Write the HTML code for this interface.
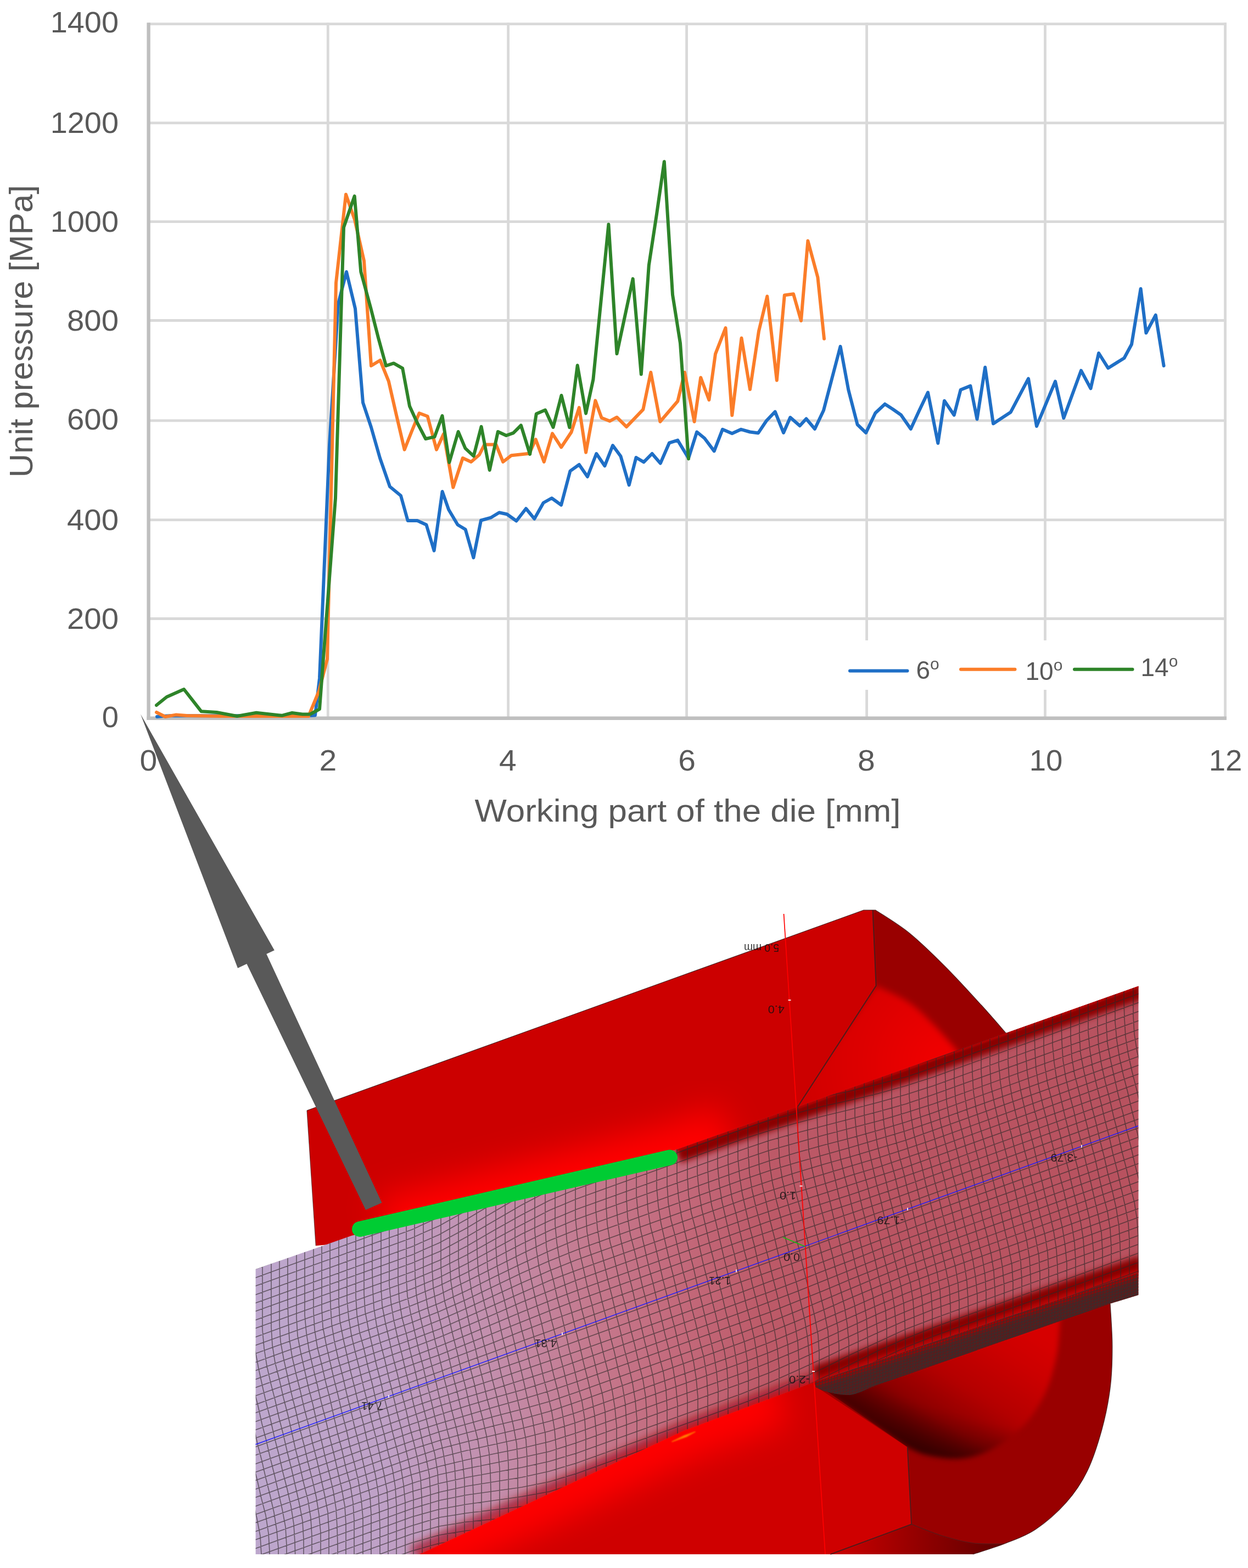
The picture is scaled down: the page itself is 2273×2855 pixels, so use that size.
<!DOCTYPE html>
<html lang="en"><head><meta charset="utf-8"><title>Unit pressure on the working part of the die</title>
<style>html,body{margin:0;padding:0;background:#fff}svg{display:block}text{font-family:"Liberation Sans",sans-serif}</style></head><body>
<svg width="2273" height="2855" viewBox="0 0 2273 2855">
<defs>
<pattern id="mesh" patternUnits="userSpaceOnUse" width="15" height="15" patternTransform="matrix(1,-0.36,0,1,465.6,2311)">
<path d="M0 7.5H15M7.5 0V15" fill="none" stroke="#2e2a2a" stroke-width="2" stroke-opacity="0.82"/>
</pattern>
<pattern id="meshC" patternUnits="userSpaceOnUse" width="14.8" height="14.8" patternTransform="matrix(0.941,-0.339,0.339,0.941,465.6,2630)">
<path d="M0 7.4H14.8M7.4 0V14.8" fill="none" stroke="#2e2a2a" stroke-width="2" stroke-opacity="0.82"/>
</pattern>
<pattern id="fine" patternUnits="userSpaceOnUse" width="5.5" height="5.5" patternTransform="matrix(1,-0.3,0,1,1484,2512)">
<path d="M0 2.75H5.5M2.75 0V5.5" fill="none" stroke="#303030" stroke-width="1.2" stroke-opacity="0.8"/>
</pattern>
<linearGradient id="meshFill" gradientUnits="userSpaceOnUse" x1="465" y1="0" x2="2073" y2="0">
<stop offset="0" stop-color="#bda7cd"/>
<stop offset="0.146" stop-color="#bfa1c7"/>
<stop offset="0.27" stop-color="#c38eac"/>
<stop offset="0.376" stop-color="#c57a8f"/>
<stop offset="0.476" stop-color="#c46a7c"/>
<stop offset="0.58" stop-color="#bd5a68"/>
<stop offset="0.7" stop-color="#ba5563"/>
<stop offset="1" stop-color="#b8525f"/>
</linearGradient>
<linearGradient id="hole" gradientUnits="userSpaceOnUse" x1="1570" y1="2581" x2="1733" y2="2329">
<stop offset="0" stop-color="#3a0000"/>
<stop offset="0.08" stop-color="#500000"/>
<stop offset="0.25" stop-color="#8c0000"/>
<stop offset="0.5" stop-color="#b40000"/>
<stop offset="0.8" stop-color="#cc0000"/>
<stop offset="1" stop-color="#d60000"/>
</linearGradient>
<linearGradient id="hole2" gradientUnits="userSpaceOnUse" x1="1730" y1="2668" x2="1755" y2="2575">
<stop offset="0" stop-color="#2c0000" stop-opacity="0.9"/>
<stop offset="0.35" stop-color="#3c0000" stop-opacity="0.6"/>
<stop offset="1" stop-color="#600000" stop-opacity="0"/>
</linearGradient>
<linearGradient id="lowTri" gradientUnits="userSpaceOnUse" x1="1540" y1="0" x2="1820" y2="0">
<stop offset="0" stop-color="#c40000"/>
<stop offset="0.5" stop-color="#900000"/>
<stop offset="1" stop-color="#600000"/>
</linearGradient>
<radialGradient id="cone" gradientUnits="userSpaceOnUse" cx="1725" cy="1935" r="300">
<stop offset="0" stop-color="#f20000"/>
<stop offset="0.4" stop-color="#e20000"/>
<stop offset="1" stop-color="#cc0000"/>
</radialGradient>
<linearGradient id="stripFill" gradientUnits="userSpaceOnUse" x1="1780" y1="2412" x2="1792" y2="2448">
<stop offset="0" stop-color="#c00000"/>
<stop offset="0.3" stop-color="#8a0c0c"/>
<stop offset="0.6" stop-color="#5e2222"/>
<stop offset="1" stop-color="#6a2a2a"/>
</linearGradient>
<filter id="b1" x="-10%" y="-10%" width="120%" height="120%"><feGaussianBlur stdDeviation="1.2"/></filter>
<filter id="b4" x="-5%" y="-20%" width="110%" height="140%"><feGaussianBlur stdDeviation="4"/></filter>
<filter id="b5" x="-10%" y="-10%" width="120%" height="120%"><feGaussianBlur stdDeviation="5"/></filter>
<filter id="b8" x="-5%" y="-20%" width="110%" height="140%"><feGaussianBlur stdDeviation="8"/></filter>
<filter id="b6" x="-5%" y="-20%" width="110%" height="140%"><feGaussianBlur stdDeviation="6"/></filter>
<filter id="b30" x="-20%" y="-60%" width="140%" height="220%"><feGaussianBlur stdDeviation="30"/></filter>
<filter id="b12" x="-20%" y="-60%" width="140%" height="220%"><feGaussianBlur stdDeviation="12"/></filter>
</defs>

<rect width="2273" height="2855" fill="#fff"/>
<g stroke="#d9d9d9" stroke-width="4.8" fill="none">
<line x1="270.6" y1="1126.5" x2="2233.9" y2="1126.5"/>
<line x1="270.6" y1="946.7" x2="2233.9" y2="946.7"/>
<line x1="270.6" y1="765.8" x2="2233.9" y2="765.8"/>
<line x1="270.6" y1="583.5" x2="2233.9" y2="583.5"/>
<line x1="270.6" y1="403.6" x2="2233.9" y2="403.6"/>
<line x1="270.6" y1="223.8" x2="2233.9" y2="223.8"/>
<line x1="270.6" y1="43.6" x2="2233.9" y2="43.6"/>
<line x1="597.3" y1="41.2" x2="597.3" y2="1307.8"/>
<line x1="925.6" y1="41.2" x2="925.6" y2="1307.8"/>
<line x1="1250.6" y1="41.2" x2="1250.6" y2="1307.8"/>
<line x1="1578.6" y1="41.2" x2="1578.6" y2="1307.8"/>
<line x1="1903.5" y1="41.2" x2="1903.5" y2="1307.8"/>
<line x1="2231.5" y1="41.2" x2="2231.5" y2="1307.8"/>
</g>
<rect x="1530" y="1166" width="680" height="90" fill="#fff"/>
<g stroke="#bfbfbf" stroke-width="6.4" fill="none"><line x1="270.6" y1="41.2" x2="270.6" y2="1311.0"/><line x1="267.40000000000003" y1="1307.8" x2="2233.9" y2="1307.8"/></g>
<polyline points="286.0,1305.0 296.0,1304.0 310.0,1303.2 560.0,1303.2 574.0,1302.5 582.0,1235.0 600.0,810.0 616.0,553.0 631.0,495.0 647.0,562.0 661.0,733.0 676.0,778.0 692.0,834.0 710.0,886.0 730.0,902.5 742.7,948.0 760.0,948.0 776.5,955.5 790.6,1002.6 805.6,895.0 817.2,928.0 833.6,955.5 847.7,964.0 862.4,1015.4 876.0,947.5 893.6,942.7 909.2,933.3 923.3,936.3 940.5,948.5 958.0,926.0 973.3,944.6 989.7,915.5 1004.8,907.0 1022.1,919.5 1038.5,857.6 1054.8,846.0 1070.0,868.0 1086.2,826.0 1101.4,848.3 1116.0,811.0 1130.5,830.8 1145.7,883.2 1158.5,833.0 1172.5,841.3 1187.6,826.0 1202.8,843.6 1219.0,806.3 1234.3,801.6 1254.0,834.3 1269.2,786.5 1283.2,798.0 1300.7,821.4 1315.9,781.8 1333.3,789.3 1349.7,781.8 1366.0,786.5 1381.0,788.4 1396.0,766.0 1411.7,749.7 1427.0,788.0 1439.3,760.0 1456.7,775.3 1468.4,762.5 1484.0,781.0 1500.0,747.3 1515.0,690.0 1530.6,630.8 1545.3,710.0 1561.6,773.0 1577.2,788.0 1594.3,752.0 1611.7,735.7 1626.0,745.0 1641.0,755.5 1658.8,781.0 1674.0,748.0 1690.0,714.5 1708.3,807.0 1720.0,729.7 1737.7,755.8 1749.6,709.8 1767.4,702.6 1779.5,763.2 1794.2,668.8 1809.0,771.4 1840.8,750.4 1873.0,689.3 1888.0,776.0 1922.0,694.4 1937.3,761.3 1969.0,674.7 1986.5,707.3 2001.1,643.0 2018.2,670.2 2047.5,652.0 2061.0,627.0 2077.6,525.7 2087.4,606.3 2104.8,573.7 2119.6,666.0" fill="none" stroke="#1f6fc6" stroke-width="6" stroke-linejoin="round" stroke-linecap="round"/>
<polyline points="285.0,1297.0 301.0,1305.0 320.0,1301.6 340.0,1303.0 400.0,1304.0 480.0,1304.0 562.0,1304.0 581.0,1258.0 596.0,1200.0 612.0,515.0 630.0,354.0 646.0,400.0 663.0,475.0 676.0,666.0 692.4,656.0 707.8,694.0 722.0,756.0 736.7,818.7 750.0,785.0 763.5,752.3 778.7,758.0 795.0,818.7 808.0,790.0 825.3,887.5 842.8,834.0 858.0,841.0 873.0,828.0 882.4,809.4 903.4,809.4 916.2,841.0 931.4,829.2 964.0,825.7 975.7,800.0 990.8,841.0 1006.0,789.3 1022.2,814.3 1040.5,787.0 1054.8,742.2 1067.1,823.8 1084.4,729.4 1095.6,760.8 1110.7,766.7 1123.5,759.7 1141.0,777.2 1171.3,745.7 1185.3,678.0 1202.3,767.8 1234.3,730.5 1247.0,678.0 1264.6,767.8 1276.2,687.4 1291.4,728.2 1303.0,644.3 1321.5,597.0 1333.3,756.2 1350.5,615.5 1366.0,709.0 1382.0,603.0 1397.3,539.5 1414.8,692.5 1428.8,537.5 1445.0,535.2 1459.0,584.0 1471.4,438.5 1489.4,505.0 1501.0,616.8" fill="none" stroke="#fb7d29" stroke-width="6" stroke-linejoin="round" stroke-linecap="round"/>
<polyline points="285.0,1284.0 303.6,1269.0 335.0,1255.0 366.6,1295.3 394.5,1297.0 431.8,1304.0 466.8,1297.7 513.4,1302.8 532.0,1298.0 550.7,1300.5 564.7,1300.5 582.0,1291.0 611.0,907.0 626.0,414.0 645.7,357.0 657.3,495.0 675.0,560.0 689.0,615.0 703.0,666.0 717.0,661.4 733.2,670.7 746.0,739.5 760.0,770.0 775.2,799.0 791.5,795.4 805.5,757.0 818.3,842.0 834.6,786.0 847.5,816.4 862.6,830.4 876.6,776.8 891.7,856.0 906.9,786.0 922.0,793.0 934.9,788.4 948.9,774.5 965.2,827.0 976.8,753.5 993.1,746.5 1007.5,778.0 1022.5,720.0 1037.3,778.3 1051.7,665.3 1067.1,752.7 1080.4,691.0 1108.4,408.5 1123.5,644.0 1152.7,507.6 1167.8,681.6 1181.8,483.0 1196.0,390.0 1209.8,294.3 1225.0,536.7 1239.0,625.0 1254.0,835.4" fill="none" stroke="#2e8429" stroke-width="6" stroke-linejoin="round" stroke-linecap="round"/>
<g fill="#595959" font-size="53">
<text x="216" y="1324.2" text-anchor="end" textLength="30.2" lengthAdjust="spacingAndGlyphs">0</text>
<text x="216" y="1144.8" text-anchor="end" textLength="94" lengthAdjust="spacingAndGlyphs">200</text>
<text x="216" y="964.9" text-anchor="end" textLength="94" lengthAdjust="spacingAndGlyphs">400</text>
<text x="216" y="782.0" text-anchor="end" textLength="94" lengthAdjust="spacingAndGlyphs">600</text>
<text x="216" y="601.8" text-anchor="end" textLength="94" lengthAdjust="spacingAndGlyphs">800</text>
<text x="216" y="421.6" text-anchor="end" textLength="124.3" lengthAdjust="spacingAndGlyphs">1000</text>
<text x="216" y="241.8" text-anchor="end" textLength="124.3" lengthAdjust="spacingAndGlyphs">1200</text>
<text x="216" y="59.4" text-anchor="end" textLength="124.3" lengthAdjust="spacingAndGlyphs">1400</text>
<text x="270.4" y="1403.2" text-anchor="middle" textLength="31.7" lengthAdjust="spacingAndGlyphs">0</text>
<text x="597.3" y="1403.2" text-anchor="middle" textLength="31.7" lengthAdjust="spacingAndGlyphs">2</text>
<text x="924.8" y="1403.2" text-anchor="middle" textLength="31.7" lengthAdjust="spacingAndGlyphs">4</text>
<text x="1251.0" y="1403.2" text-anchor="middle" textLength="31.7" lengthAdjust="spacingAndGlyphs">6</text>
<text x="1577.8" y="1403.2" text-anchor="middle" textLength="31.7" lengthAdjust="spacingAndGlyphs">8</text>
<text x="1905.0" y="1403.2" text-anchor="middle" textLength="60.6" lengthAdjust="spacingAndGlyphs">10</text>
<text x="2232.0" y="1403.2" text-anchor="middle" textLength="60.6" lengthAdjust="spacingAndGlyphs">12</text>
</g>
<text x="1252.5" y="1496" fill="#595959" font-size="58" text-anchor="middle" textLength="776" lengthAdjust="spacingAndGlyphs">Working part of the die [mm]</text>
<text transform="translate(59.3 603.3) rotate(-90)" fill="#595959" font-size="58.6" text-anchor="middle" textLength="532.5" lengthAdjust="spacingAndGlyphs">Unit pressure [MPa]</text>
<g stroke-width="6" stroke-linecap="round" fill="none"><line x1="1548" y1="1221.4" x2="1652.5" y2="1221.4" stroke="#1f6fc6"/><line x1="1750" y1="1218.7" x2="1848.5" y2="1218.7" stroke="#fb7d29"/><line x1="1957" y1="1218.7" x2="2062.5" y2="1218.7" stroke="#2e8429"/></g>
<g fill="#595959" font-size="46"><text x="1668.5" y="1236">6<tspan font-size="30" dy="-17">o</tspan></text><text x="1867.5" y="1238">10<tspan font-size="30" dy="-17">o</tspan></text><text x="2077.5" y="1231.4">14<tspan font-size="30" dy="-17">o</tspan></text></g>
<g id="fig3d">
<clipPath id="cUp"><path d="M559 2022L1573 1657.2L1589.5 1657L1595.6 1794.8L1452.7 2015.5L1452.7 2040L1234 2115L640 2262L575.2 2268.3Z"/></clipPath>
<clipPath id="cLo"><path d="M700 2830L700 2800L1245 2580L1485 2500L1488 2526L1652.7 2635L1660 2775.4L1512.5 2830Z"/></clipPath>
<clipPath id="cMesh"><path d="M465.6 2311.0L577.5 2272.0L640.0 2250.0L1234.0 2092.4L1452.7 2015.5L2073.5 1795.5L2073.5 2317.0L1484.0 2516.0L1245.0 2605.0L764.0 2830.0L465.6 2830Z"/></clipPath>
<clipPath id="cStrip"><path d="M1482 2512L2073.5 2313L2073.5 2358L2018 2375L1600 2521C1575 2530 1560 2540 1545 2540C1525 2540 1500 2534 1486 2526Z"/></clipPath>
<path d="M1488 2510L2022 2340L2022 2374C2022.6 2386.9 2025.8 2426.0 2025.8 2451.5C2025.8 2477.0 2025.2 2501.8 2022.0 2527.0C2018.8 2552.2 2013.8 2577.7 2006.8 2603.0C1999.8 2628.3 1990.8 2656.9 1980.0 2679.0C1969.2 2701.1 1957.7 2717.9 1942.0 2735.6C1926.3 2753.3 1904.5 2772.4 1885.6 2785.0C1866.7 2797.6 1847.7 2803.5 1828.8 2811.0C1809.9 2818.5 1781.5 2826.8 1772.0 2830.0L1512 2830Z" fill="#990000"/>
<clipPath id="cRingLo"><path d="M1478 2514L2022 2340L2022 2374C2022.6 2386.9 2025.8 2426.0 2025.8 2451.5C2025.8 2477.0 2025.2 2501.8 2022.0 2527.0C2018.8 2552.2 2013.8 2577.7 2006.8 2603.0C1999.8 2628.3 1990.8 2656.9 1980.0 2679.0C1969.2 2701.1 1957.7 2717.9 1942.0 2735.6C1926.3 2753.3 1904.5 2772.4 1885.6 2785.0C1866.7 2797.6 1847.7 2803.5 1828.8 2811.0C1809.9 2818.5 1781.5 2826.8 1772.0 2830.0L1512 2830L1660 2775.4L1652.7 2635Z"/></clipPath>
<g clip-path="url(#cRingLo)"><g filter="url(#b5)"><path d="M1470 2510L1931 2370L1931 2400C1930.3 2408.6 1928.9 2436.7 1927.0 2451.5C1925.1 2466.3 1923.5 2475.1 1919.7 2489.0C1916.0 2502.9 1911.5 2519.8 1904.5 2535.0C1897.5 2550.2 1887.5 2567.4 1878.0 2580.0C1868.5 2592.6 1859.0 2601.1 1847.7 2610.6C1836.4 2620.1 1822.6 2630.1 1810.0 2637.0C1797.4 2643.9 1784.7 2648.8 1772.0 2652.0C1759.3 2655.2 1748.5 2656.6 1734.0 2656.0C1719.5 2655.4 1698.5 2652.0 1685.0 2648.5C1671.5 2645.0 1658.1 2637.2 1652.7 2635.0Z" fill="url(#hole)"/><path d="M1470 2510L1931 2370L1931 2400C1930.3 2408.6 1928.9 2436.7 1927.0 2451.5C1925.1 2466.3 1923.5 2475.1 1919.7 2489.0C1916.0 2502.9 1911.5 2519.8 1904.5 2535.0C1897.5 2550.2 1887.5 2567.4 1878.0 2580.0C1868.5 2592.6 1859.0 2601.1 1847.7 2610.6C1836.4 2620.1 1822.6 2630.1 1810.0 2637.0C1797.4 2643.9 1784.7 2648.8 1772.0 2652.0C1759.3 2655.2 1748.5 2656.6 1734.0 2656.0C1719.5 2655.4 1698.5 2652.0 1685.0 2648.5C1671.5 2645.0 1658.1 2637.2 1652.7 2635.0Z" fill="url(#hole2)"/></g></g>
<path d="M1512.5 2830.0L1660 2775.4C1669.2 2778.8 1696.3 2790.3 1715.0 2796.0C1733.7 2801.7 1753.0 2807.0 1772.0 2809.5C1791.0 2812.0 1819.3 2810.8 1828.8 2811.0L1772 2830Z" fill="url(#lowTri)"/>
<path d="M700 2830L700 2800L1245 2580L1485 2500L1488 2526L1652.7 2635L1660 2775.4L1512.5 2830Z" fill="#cf0000"/>
<g clip-path="url(#cLo)"><path d="M764 2830L1245 2605L1420 2541" fill="none" stroke="#ff0000" stroke-width="110" filter="url(#b30)"/></g>
<path d="M1652.7 2635L1660 2775.4L1512.5 2830" fill="none" stroke="#4a1c1c" stroke-width="1.7"/>
<path d="M2022 2374C2022.6 2386.9 2025.8 2426.0 2025.8 2451.5C2025.8 2477.0 2025.2 2501.8 2022.0 2527.0C2018.8 2552.2 2013.8 2577.7 2006.8 2603.0C1999.8 2628.3 1990.8 2656.9 1980.0 2679.0C1969.2 2701.1 1957.7 2717.9 1942.0 2735.6C1926.3 2753.3 1904.5 2772.4 1885.6 2785.0C1866.7 2797.6 1847.7 2803.5 1828.8 2811.0C1809.9 2818.5 1781.5 2826.8 1772.0 2830.0" fill="none" stroke="#3a1414" stroke-width="1.3" stroke-opacity="0.8"/>
<path d="M1660.0 2775.4C1669.2 2778.8 1696.3 2790.3 1715.0 2796.0C1733.7 2801.7 1753.0 2807.0 1772.0 2809.5C1791.0 2812.0 1819.3 2810.8 1828.8 2811.0" fill="none" stroke="#5a1a1a" stroke-width="1.2"/>
<path d="M559 2022L1573 1657.2L1589.5 1657L1595.6 1794.8L1452.7 2015.5L1452.7 2040L1234 2115L640 2262L575.2 2268.3Z" fill="#cc0000"/>
<g clip-path="url(#cUp)"><path d="M700 2240L1234 2104L1330 2070" fill="none" stroke="#ff0000" stroke-width="120" filter="url(#b30)"/></g>
<clipPath id="cRingUp"><path d="M1589.5 1657L1594.8 1657.2C1605.0 1664.1 1634.9 1681.6 1656.0 1698.7C1677.1 1715.8 1699.7 1738.1 1721.5 1759.9C1743.3 1781.8 1768.4 1809.5 1787.0 1829.8C1805.6 1850.1 1825.3 1873.3 1833.0 1882.0L1833 1900L1452.7 2040L1452.7 2015.5L1595.6 1794.8Z"/></clipPath>
<path d="M1589.5 1657L1594.8 1657.2C1605.0 1664.1 1634.9 1681.6 1656.0 1698.7C1677.1 1715.8 1699.7 1738.1 1721.5 1759.9C1743.3 1781.8 1768.4 1809.5 1787.0 1829.8C1805.6 1850.1 1825.3 1873.3 1833.0 1882.0L1833 1900L1452.7 2040L1452.7 2015.5L1595.6 1794.8Z" fill="#990000"/>
<g clip-path="url(#cRingUp)"><path d="M1595.6 1794.8C1605.7 1799.9 1638.7 1813.7 1656.0 1825.4C1673.3 1837.1 1685.1 1850.2 1699.7 1864.8C1714.3 1879.4 1736.1 1904.8 1743.4 1912.8L1743.4 1940L1440 2050L1440 2015.5Z" fill="url(#cone)" filter="url(#b6)"/></g>
<path d="M1589.5 1657L1595.6 1794.8L1452.7 2015.5" fill="none" stroke="#4a1c1c" stroke-width="1.9"/>
<path d="M559 2022L1573 1657.2L1594.8 1657.2C1605.0 1664.1 1634.9 1681.6 1656.0 1698.7C1677.1 1715.8 1699.7 1738.1 1721.5 1759.9C1743.3 1781.8 1768.4 1809.5 1787.0 1829.8C1805.6 1850.1 1825.3 1873.3 1833.0 1882.0" fill="none" stroke="#3a1414" stroke-width="1.3" stroke-opacity="0.8"/>
<path d="M559 2022L575.2 2268.3" fill="none" stroke="#3a1414" stroke-width="1.2" stroke-opacity="0.6"/>
<path d="M1482 2512L2073.5 2313L2073.5 2358L2018 2375L1600 2521C1575 2530 1560 2540 1545 2540C1525 2540 1500 2534 1486 2526Z" fill="#581c1c"/>
<g clip-path="url(#cStrip)"><path d="M1470 2521L2080 2315" fill="none" stroke="#a40000" stroke-width="18" filter="url(#b4)"/></g>
<path d="M1482 2512L2073.5 2313L2073.5 2358L2018 2375L1600 2521C1575 2530 1560 2540 1545 2540C1525 2540 1500 2534 1486 2526Z" fill="url(#fine)"/>
<path d="M465.6 2311.0L577.5 2272.0L640.0 2250.0L1234.0 2092.4L1452.7 2015.5L2073.5 1795.5L2073.5 2317.0L1484.0 2516.0L1245.0 2605.0L764.0 2830.0L465.6 2830Z" fill="url(#meshFill)"/>
<g clip-path="url(#cMesh)">
<path d="M1234 2103L1452.7 2026L2080 1803.5" fill="none" stroke="#8a0000" stroke-width="30" filter="url(#b6)"/>
<path d="M1234 2093.5L1452.7 2016.5L2080 1794" fill="none" stroke="#b40000" stroke-width="5" filter="url(#b1)"/>
<path d="M750 2826L1245 2598L1484 2509" fill="none" stroke="#a00010" stroke-width="18" stroke-opacity="0.75" filter="url(#b8)"/>
<path d="M1484 2502L2080 2301" fill="none" stroke="#880000" stroke-width="30" filter="url(#b6)"/>
<path d="M1484 2514L2080 2313" fill="none" stroke="#c00000" stroke-width="9" filter="url(#b4)"/>
<path d="M764 2832L1245 2607L1484 2518" fill="none" stroke="#d80000" stroke-width="8" filter="url(#b4)"/>
<path d="M263 2363L263 2397L263 2431L263 2465L263 2499L265 2532L270 2564L278 2596L285 2627L293 2658L300 2690L307 2721L315 2752L322 2784L330 2815L335 2847L337 2880L337 2914L337 2948L337 2982L337 3016M278 2358L278 2392L278 2426L278 2460L278 2494L280 2527L286 2559L293 2590L300 2622L308 2653L315 2684L323 2715L330 2747L338 2778L345 2809L350 2842L353 2875L353 2909L353 2943L353 2977L353 3011M293 2352L293 2386L293 2420L293 2454L294 2488L296 2521L301 2553L308 2585L316 2616L323 2647L331 2679L338 2710L346 2741L353 2773L360 2804L366 2836L368 2869L368 2903L368 2937L368 2971L368 3005M309 2347L309 2381L309 2415L309 2449L309 2482L311 2516L317 2548L324 2579L331 2610L339 2642L346 2673L354 2704L361 2736L369 2767L376 2798L381 2830L383 2864L384 2898L384 2932L384 2966L384 3000M324 2341L324 2375L324 2409L324 2443L324 2477L327 2510L332 2542L339 2574L347 2605L354 2636L362 2668L369 2699L377 2730L384 2761L391 2793L397 2825L399 2858L399 2892L399 2926L399 2960L399 2994M340 2335L340 2369L340 2403L340 2437L340 2471L342 2505L347 2537L355 2568L362 2599L370 2631L377 2662L384 2693L392 2725L399 2756L407 2787L412 2819L414 2853L414 2886L414 2920L414 2954L414 2988M355 2330L355 2364L355 2398L355 2432L355 2466L357 2499L363 2531L370 2563L377 2594L385 2625L392 2656L400 2688L407 2719L415 2750L422 2782L427 2814L430 2847L430 2881L430 2915L430 2949L430 2983M370 2324L370 2358L370 2392L370 2426L371 2460L373 2493L378 2526L385 2557L393 2588L400 2620L408 2651L415 2682L423 2713L430 2745L437 2776L443 2808L445 2841L445 2875L445 2909L445 2943L445 2977M386 2319L386 2353L386 2387L386 2421L386 2455L388 2488L394 2520L401 2551L408 2583L416 2614L423 2645L431 2677L438 2708L446 2739L453 2771L458 2803L460 2836L461 2870L461 2904L461 2938L461 2972M401 2313L401 2347L401 2381L401 2415L401 2449L404 2482L409 2514L416 2546L424 2577L431 2608L439 2640L446 2671L454 2702L461 2734L468 2765L474 2797L476 2830L476 2864L476 2898L476 2932L476 2966M417 2308L417 2342L417 2376L417 2410L417 2444L419 2477L424 2509L432 2540L439 2572L447 2603L454 2634L461 2665L469 2697L476 2728L484 2759L489 2792L491 2825L491 2859L491 2893L491 2927L491 2961M432 2302L432 2336L432 2370L432 2404L432 2438L434 2471L440 2503L447 2535L454 2566L462 2597L469 2629L477 2660L484 2691L492 2723L499 2754L504 2786L507 2819L507 2853L507 2887L507 2921L507 2955M447 2297L447 2331L447 2365L447 2399L448 2432L450 2466L455 2498L462 2529L470 2560L477 2592L485 2623L492 2654L500 2686L507 2717L514 2748L520 2780L522 2814L522 2848L522 2882L522 2916L522 2950M463 2291L463 2325L463 2359L463 2393L463 2427L465 2460L471 2492L478 2524L485 2555L493 2586L500 2618L508 2649L515 2680L523 2711L530 2743L535 2775L537 2808L538 2842L538 2876L538 2910L538 2944M478 2285L478 2319L478 2353L478 2387L478 2421L481 2455L486 2487L493 2518L501 2549L508 2581L516 2612L523 2643L531 2675L538 2706L545 2737L551 2769L553 2803L553 2836L553 2870L553 2904L553 2938M494 2280L494 2314L494 2348L494 2382L494 2416L496 2449L501 2481L509 2513L516 2544L524 2575L531 2606L538 2638L546 2669L553 2700L561 2732L566 2764L568 2797L568 2831L568 2865L568 2899L568 2933M509 2274L509 2308L509 2342L509 2376L509 2410L511 2443L517 2476L524 2507L531 2538L539 2570L546 2601L554 2632L561 2663L569 2695L576 2726L581 2758L584 2791L584 2825L584 2859L584 2893L584 2927M524 2269L524 2303L524 2337L524 2371L525 2405L527 2438L532 2470L539 2501L547 2533L554 2564L562 2595L569 2627L577 2658L584 2689L591 2721L597 2753L599 2786L599 2820L599 2854L599 2888L599 2922M540 2263L540 2297L540 2331L540 2365L540 2399L542 2432L548 2464L555 2496L562 2527L570 2558L577 2590L585 2621L592 2652L600 2684L607 2715L612 2747L614 2780L615 2814L615 2848L615 2882L615 2916M555 2258L555 2292L555 2326L555 2360L555 2394L558 2427L563 2459L570 2490L578 2522L585 2553L593 2584L600 2615L608 2647L615 2678L622 2709L628 2742L630 2775L630 2809L630 2843L630 2877L630 2911M571 2252L571 2286L571 2320L571 2354L571 2388L573 2421L578 2453L586 2485L593 2516L601 2547L608 2579L615 2610L623 2641L630 2673L638 2704L643 2736L645 2769L645 2803L645 2837L645 2871L645 2905M586 2247L586 2281L586 2315L586 2349L586 2382L588 2416L594 2448L601 2479L608 2510L616 2542L623 2573L631 2604L638 2636L646 2667L653 2698L658 2730L661 2764L661 2798L661 2832L661 2866L661 2900M601 2241L601 2275L601 2309L601 2343L602 2377L604 2410L609 2442L616 2474L624 2505L631 2536L639 2568L646 2599L654 2630L661 2661L668 2693L674 2725L676 2758L676 2792L676 2826L676 2860L676 2894M617 2235L617 2269L617 2303L617 2337L617 2371L619 2405L625 2437L632 2468L639 2499L647 2531L654 2562L662 2593L669 2625L677 2656L684 2687L689 2719L691 2753L692 2786L692 2820L692 2854L692 2888M632 2230L632 2264L632 2298L632 2332L632 2366L635 2399L640 2431L647 2462L655 2494L662 2525L670 2556L677 2588L685 2619L692 2650L699 2682L705 2714L707 2747L707 2781L707 2815L707 2849L707 2883M648 2224L648 2258L648 2292L648 2326L648 2360L650 2393L655 2426L663 2457L670 2488L678 2520L685 2551L692 2582L700 2613L707 2645L715 2676L720 2708L722 2741L722 2775L722 2809L722 2843L722 2877M663 2219L663 2253L663 2287L663 2321L663 2355L665 2388L671 2420L678 2451L685 2483L693 2514L700 2545L708 2577L715 2608L723 2639L730 2671L735 2703L738 2736L738 2770L738 2804L738 2838L738 2872M678 2213L678 2247L678 2281L678 2315L679 2349L681 2382L686 2414L693 2446L701 2477L708 2508L716 2540L723 2571L731 2602L738 2634L745 2665L751 2697L753 2730L753 2764L753 2798L753 2832L753 2866M694 2208L694 2242L694 2276L694 2310L694 2344L696 2377L702 2409L709 2440L716 2472L724 2503L731 2534L739 2565L746 2597L754 2628L761 2659L766 2692L768 2725L769 2759L769 2793L769 2827L769 2861M709 2202L709 2236L709 2270L709 2304L709 2338L712 2371L717 2403L724 2435L732 2466L739 2497L747 2529L754 2560L762 2591L769 2623L776 2654L782 2686L784 2719L784 2753L784 2787L784 2821L784 2855M725 2197L725 2231L725 2265L725 2299L725 2332L727 2366L732 2398L740 2429L747 2460L755 2492L762 2523L769 2554L777 2586L784 2617L792 2648L797 2680L799 2714L799 2748L799 2782L799 2816L799 2850M740 2191L740 2225L740 2259L740 2293L740 2327L742 2360L748 2392L755 2424L762 2455L770 2486L777 2517L785 2549L792 2580L800 2611L807 2643L812 2675L815 2708L815 2742L815 2776L815 2810L815 2844M755 2185L755 2219L755 2253L755 2287L756 2321L758 2355L763 2387L770 2418L778 2449L785 2481L793 2512L800 2543L808 2575L815 2606L823 2637L828 2669L830 2703L830 2736L830 2770L830 2804L830 2838M771 2180L771 2214L771 2248L771 2282L771 2316L774 2349L779 2381L786 2412L793 2444L801 2475L808 2506L816 2538L823 2569L831 2600L838 2632L843 2664L846 2697L846 2731L846 2765L846 2799L846 2833M787 2174L787 2208L787 2242L787 2276L787 2310L789 2343L794 2375L802 2407L809 2438L817 2469L824 2501L832 2532L839 2563L847 2595L854 2626L859 2658L861 2691L862 2725L862 2759L862 2793L862 2827M803 2168L803 2202L803 2236L803 2270L803 2304L805 2338L810 2370L818 2401L825 2432L833 2464L840 2495L848 2526L855 2558L862 2589L870 2620L875 2652L877 2685L877 2719L877 2753L877 2787L877 2821M819 2163L819 2197L819 2231L819 2265L819 2299L821 2332L826 2364L834 2395L841 2427L849 2458L856 2489L864 2520L871 2552L879 2583L886 2614L891 2647L893 2680L894 2714L894 2748L894 2782L894 2816M835 2157L835 2191L835 2225L835 2259L835 2293L837 2326L843 2358L850 2389L857 2421L865 2452L872 2483L880 2515L887 2546L895 2577L902 2609L907 2641L910 2674L910 2708L910 2742L910 2776L910 2810M852 2151L852 2185L852 2219L852 2253L852 2287L854 2320L859 2352L866 2383L874 2415L881 2446L889 2477L896 2509L904 2540L911 2571L919 2603L924 2635L926 2668L926 2702L926 2736L926 2770L926 2804M868 2145L868 2179L868 2213L868 2247L869 2281L871 2314L876 2346L883 2377L891 2409L898 2440L906 2471L913 2503L921 2534L928 2565L935 2596L941 2629L943 2662L943 2696L943 2730L943 2764L943 2798M885 2139L885 2173L885 2207L885 2241L886 2274L888 2308L893 2340L900 2371L908 2402L915 2434L923 2465L930 2496L938 2528L945 2559L952 2590L958 2622L960 2656L960 2690L960 2724L960 2758L960 2792M903 2132L903 2166L903 2200L903 2234L903 2268L905 2301L910 2334L918 2365L925 2396L933 2428L940 2459L948 2490L955 2521L962 2553L970 2584L975 2616L977 2649L977 2683L977 2717L977 2751L977 2785M920 2126L920 2160L920 2194L920 2228L920 2262L923 2295L928 2327L935 2359L943 2390L950 2421L958 2452L965 2484L973 2515L980 2546L987 2578L993 2610L995 2643L995 2677L995 2711L995 2745L995 2779M938 2120L938 2154L938 2188L938 2222L938 2255L940 2289L946 2321L953 2352L960 2383L968 2415L975 2446L983 2477L990 2509L998 2540L1005 2571L1010 2603L1013 2637L1013 2671L1013 2705L1013 2739L1013 2773M956 2113L956 2147L956 2181L956 2215L956 2249L958 2282L964 2314L971 2346L978 2377L986 2408L993 2440L1001 2471L1008 2502L1016 2533L1023 2565L1028 2597L1031 2630L1031 2664L1031 2698L1031 2732L1031 2766M974 2106L974 2140L974 2174L974 2208L974 2242L977 2276L982 2308L989 2339L997 2370L1004 2402L1012 2433L1019 2464L1027 2496L1034 2527L1041 2558L1047 2590L1049 2624L1049 2657L1049 2691L1049 2725L1049 2759M993 2100L993 2134L993 2168L993 2202L993 2236L995 2269L1000 2301L1008 2332L1015 2364L1023 2395L1030 2426L1037 2458L1045 2489L1052 2520L1060 2552L1065 2584L1067 2617L1067 2651L1067 2685L1067 2719L1067 2753M1011 2093L1011 2127L1011 2161L1011 2195L1011 2229L1014 2262L1019 2294L1026 2326L1033 2357L1041 2388L1048 2420L1056 2451L1063 2482L1071 2514L1078 2545L1083 2577L1086 2610L1086 2644L1086 2678L1086 2712L1086 2746M1030 2087L1030 2121L1030 2155L1030 2189L1030 2222L1032 2256L1037 2288L1045 2319L1052 2350L1059 2382L1067 2413L1074 2444L1082 2476L1089 2507L1097 2538L1102 2570L1104 2604L1104 2638L1104 2672L1104 2706L1104 2740M1048 2080L1048 2114L1048 2148L1048 2182L1048 2216L1051 2249L1056 2281L1063 2312L1070 2344L1078 2375L1085 2406L1093 2438L1100 2469L1108 2500L1115 2532L1120 2564L1123 2597L1123 2631L1123 2665L1123 2699L1123 2733M1067 2073L1067 2107L1067 2141L1067 2175L1067 2209L1069 2242L1074 2274L1082 2306L1089 2337L1096 2368L1104 2400L1111 2431L1119 2462L1126 2494L1134 2525L1139 2557L1141 2590L1141 2624L1141 2658L1141 2692L1141 2726M1085 2067L1085 2101L1085 2135L1085 2169L1085 2202L1088 2236L1093 2268L1100 2299L1107 2330L1115 2362L1122 2393L1130 2424L1137 2456L1145 2487L1152 2518L1157 2550L1160 2584L1160 2618L1160 2652L1160 2686L1160 2720M1104 2060L1104 2094L1104 2128L1104 2162L1104 2196L1106 2229L1111 2261L1119 2292L1126 2324L1133 2355L1141 2386L1148 2418L1156 2449L1163 2480L1171 2512L1176 2544L1178 2577L1178 2611L1178 2645L1178 2679L1178 2713M1122 2053L1122 2087L1122 2121L1122 2155L1122 2189L1125 2222L1130 2254L1137 2286L1144 2317L1152 2348L1159 2380L1167 2411L1174 2442L1182 2474L1189 2505L1194 2537L1197 2570L1197 2604L1197 2638L1197 2672L1197 2706M1141 2046L1141 2080L1141 2114L1141 2148L1141 2182L1143 2216L1148 2248L1156 2279L1163 2310L1170 2342L1178 2373L1185 2404L1193 2436L1200 2467L1208 2498L1213 2530L1215 2564L1215 2597L1215 2631L1215 2665L1215 2699M1159 2040L1159 2074L1159 2108L1159 2142L1159 2176L1162 2209L1167 2241L1174 2272L1181 2304L1189 2335L1196 2366L1204 2398L1211 2429L1219 2460L1226 2492L1231 2524L1234 2557L1234 2591L1234 2625L1234 2659L1234 2693M1178 2033L1178 2067L1178 2101L1178 2135L1178 2169L1180 2202L1185 2234L1193 2266L1200 2297L1207 2328L1215 2360L1222 2391L1230 2422L1237 2454L1245 2485L1250 2517L1252 2550L1252 2584L1252 2618L1252 2652L1252 2686M1196 2026L1196 2060L1196 2094L1196 2128L1196 2162L1199 2196L1204 2228L1211 2259L1218 2290L1226 2322L1233 2353L1241 2384L1248 2416L1256 2447L1263 2478L1268 2510L1271 2544L1271 2577L1271 2611L1271 2645L1271 2679M1215 2020L1215 2054L1215 2088L1215 2122L1215 2156L1217 2189L1222 2221L1230 2252L1237 2284L1244 2315L1252 2346L1259 2378L1267 2409L1274 2440L1282 2472L1287 2504L1289 2537L1289 2571L1289 2605L1289 2639L1289 2673M1233 2013L1233 2047L1233 2081L1233 2115L1233 2149L1236 2182L1241 2214L1248 2246L1255 2277L1263 2308L1270 2340L1278 2371L1285 2402L1293 2434L1300 2465L1305 2497L1308 2530L1308 2564L1308 2598L1308 2632L1308 2666M1252 2006L1252 2040L1252 2074L1252 2108L1252 2142L1254 2176L1259 2208L1267 2239L1274 2270L1281 2302L1289 2333L1296 2364L1304 2396L1311 2427L1319 2458L1324 2490L1326 2524L1326 2557L1326 2591L1326 2625L1326 2659M1270 2000L1270 2034L1270 2068L1270 2102L1270 2136L1273 2169L1278 2201L1285 2232L1292 2264L1300 2295L1307 2326L1315 2358L1322 2389L1330 2420L1337 2452L1342 2484L1345 2517L1345 2551L1345 2585L1345 2619L1345 2653M1289 1993L1289 2027L1289 2061L1289 2095L1289 2129L1291 2162L1296 2194L1304 2226L1311 2257L1318 2288L1326 2320L1333 2351L1341 2382L1348 2413L1356 2445L1361 2477L1363 2510L1363 2544L1363 2578L1363 2612L1363 2646M1307 1986L1307 2020L1307 2054L1307 2088L1307 2122L1310 2156L1315 2188L1322 2219L1329 2250L1337 2282L1344 2313L1352 2344L1359 2376L1367 2407L1374 2438L1379 2470L1382 2504L1382 2537L1382 2571L1382 2605L1382 2639M1326 1980L1326 2014L1326 2048L1326 2082L1326 2116L1328 2149L1333 2181L1341 2212L1348 2244L1355 2275L1363 2306L1370 2338L1378 2369L1385 2400L1393 2432L1398 2464L1400 2497L1400 2531L1400 2565L1400 2599L1400 2633M1344 1973L1344 2007L1344 2041L1344 2075L1344 2109L1347 2142L1352 2174L1359 2206L1366 2237L1374 2268L1381 2300L1389 2331L1396 2362L1404 2393L1411 2425L1416 2457L1419 2490L1419 2524L1419 2558L1419 2592L1419 2626M1362 1966L1362 2000L1362 2034L1362 2068L1363 2102L1365 2136L1370 2168L1377 2199L1385 2230L1392 2262L1400 2293L1407 2324L1415 2356L1422 2387L1430 2418L1435 2450L1437 2483L1437 2517L1437 2551L1437 2585L1437 2619M1381 1960L1381 1994L1381 2028L1381 2062L1381 2096L1383 2129L1389 2161L1396 2192L1403 2224L1411 2255L1418 2286L1426 2318L1433 2349L1441 2380L1448 2412L1453 2444L1455 2477L1456 2511L1456 2545L1456 2579L1456 2613M1399 1953L1399 1987L1399 2021L1399 2055L1399 2089L1402 2122L1407 2154L1414 2186L1422 2217L1429 2248L1437 2280L1444 2311L1452 2342L1459 2374L1466 2405L1471 2437L1474 2470L1474 2504L1474 2538L1474 2572L1474 2606M1417 1947L1417 1981L1417 2015L1417 2049L1418 2083L1420 2116L1425 2148L1432 2179L1440 2211L1447 2242L1455 2273L1462 2304L1470 2336L1477 2367L1484 2398L1490 2431L1492 2464L1492 2498L1492 2532L1492 2566L1492 2600M1435 1940L1435 1974L1435 2008L1435 2042L1436 2076L1438 2109L1443 2141L1450 2173L1458 2204L1465 2235L1473 2267L1480 2298L1488 2329L1495 2361L1502 2392L1508 2424L1510 2457L1510 2491L1510 2525L1510 2559L1510 2593M1453 1934L1453 1968L1453 2002L1453 2036L1453 2070L1456 2103L1461 2135L1468 2166L1476 2198L1483 2229L1491 2260L1498 2291L1506 2323L1513 2354L1520 2385L1526 2418L1528 2451L1528 2485L1528 2519L1528 2553L1528 2587M1471 1927L1471 1961L1471 1995L1471 2029L1471 2063L1473 2096L1479 2128L1486 2160L1493 2191L1501 2222L1508 2254L1516 2285L1523 2316L1531 2348L1538 2379L1543 2411L1546 2444L1546 2478L1546 2512L1546 2546L1546 2580M1488 1921L1488 1955L1488 1989L1488 2023L1489 2057L1491 2090L1496 2122L1503 2154L1511 2185L1518 2216L1526 2247L1533 2279L1541 2310L1548 2341L1556 2373L1561 2405L1563 2438L1563 2472L1563 2506L1563 2540L1563 2574M1506 1915L1506 1949L1506 1983L1506 2017L1506 2051L1508 2084L1514 2116L1521 2147L1528 2179L1536 2210L1543 2241L1551 2272L1558 2304L1566 2335L1573 2366L1578 2399L1580 2432L1581 2466L1581 2500L1581 2534L1581 2568M1523 1908L1523 1942L1523 1976L1523 2010L1523 2044L1526 2078L1531 2110L1538 2141L1546 2172L1553 2204L1561 2235L1568 2266L1575 2298L1583 2329L1590 2360L1595 2392L1598 2426L1598 2459L1598 2493L1598 2527L1598 2561M1540 1902L1540 1936L1540 1970L1540 2004L1540 2038L1543 2071L1548 2104L1555 2135L1563 2166L1570 2197L1578 2229L1585 2260L1593 2291L1600 2323L1607 2354L1613 2386L1615 2419L1615 2453L1615 2487L1615 2521L1615 2555M1557 1896L1557 1930L1557 1964L1557 1998L1557 2032L1560 2065L1565 2097L1572 2129L1580 2160L1587 2191L1595 2223L1602 2254L1609 2285L1617 2317L1624 2348L1629 2380L1632 2413L1632 2447L1632 2481L1632 2515L1632 2549M1574 1890L1574 1924L1574 1958L1574 1992L1574 2026L1576 2059L1582 2091L1589 2123L1596 2154L1604 2185L1611 2217L1619 2248L1626 2279L1634 2311L1641 2342L1646 2374L1648 2407L1649 2441L1649 2475L1649 2509L1649 2543M1591 1884L1591 1918L1591 1952L1591 1986L1591 2020L1593 2053L1598 2085L1605 2117L1613 2148L1620 2179L1628 2211L1635 2242L1643 2273L1650 2305L1658 2336L1663 2368L1665 2401L1665 2435L1665 2469L1665 2503L1665 2537M1607 1878L1607 1912L1607 1946L1607 1980L1607 2014L1610 2047L1615 2079L1622 2111L1630 2142L1637 2173L1644 2205L1652 2236L1659 2267L1667 2299L1674 2330L1679 2362L1682 2395L1682 2429L1682 2463L1682 2497L1682 2531M1624 1872L1624 1906L1624 1940L1624 1974L1624 2008L1626 2041L1631 2073L1638 2105L1646 2136L1653 2167L1661 2199L1668 2230L1676 2261L1683 2293L1691 2324L1696 2356L1698 2389L1698 2423L1698 2457L1698 2491L1698 2525M1640 1866L1640 1900L1640 1934L1640 1968L1640 2002L1642 2035L1648 2068L1655 2099L1662 2130L1670 2162L1677 2193L1685 2224L1692 2255L1700 2287L1707 2318L1712 2350L1714 2383L1715 2417L1715 2451L1715 2485L1715 2519M1656 1860L1656 1894L1656 1928L1656 1962L1656 1996L1659 2030L1664 2062L1671 2093L1679 2124L1686 2156L1694 2187L1701 2218L1709 2250L1716 2281L1723 2312L1729 2344L1731 2378L1731 2411L1731 2445L1731 2479L1731 2513M1673 1855L1673 1889L1673 1923L1673 1957L1673 1990L1675 2024L1680 2056L1687 2087L1695 2118L1702 2150L1710 2181L1717 2212L1725 2244L1732 2275L1740 2306L1745 2338L1747 2372L1747 2406L1747 2440L1747 2474L1747 2508M1689 1849L1689 1883L1689 1917L1689 1951L1689 1985L1691 2018L1697 2050L1704 2081L1711 2113L1719 2144L1726 2175L1734 2206L1741 2238L1749 2269L1756 2300L1761 2333L1763 2366L1764 2400L1764 2434L1764 2468L1764 2502M1705 1843L1705 1877L1705 1911L1705 1945L1705 1979L1708 2012L1713 2044L1720 2075L1728 2107L1735 2138L1743 2169L1750 2201L1757 2232L1765 2263L1772 2295L1777 2327L1780 2360L1780 2394L1780 2428L1780 2462L1780 2496M1721 1837L1721 1871L1721 1905L1721 1939L1722 1973L1724 2006L1729 2038L1736 2069L1744 2101L1751 2132L1759 2163L1766 2195L1774 2226L1781 2257L1789 2289L1794 2321L1796 2354L1796 2388L1796 2422L1796 2456L1796 2490M1738 1831L1738 1865L1738 1899L1738 1933L1738 1967L1740 2000L1745 2032L1753 2064L1760 2095L1768 2126L1775 2158L1783 2189L1790 2220L1798 2251L1805 2283L1810 2315L1812 2348L1813 2382L1813 2416L1813 2450L1813 2484M1754 1825L1754 1859L1754 1893L1754 1927L1754 1961L1757 1994L1762 2026L1769 2058L1776 2089L1784 2120L1791 2152L1799 2183L1806 2214L1814 2246L1821 2277L1826 2309L1829 2342L1829 2376L1829 2410L1829 2444L1829 2478M1770 1819L1770 1853L1770 1887L1770 1921L1771 1955L1773 1988L1778 2020L1785 2052L1793 2083L1800 2114L1808 2146L1815 2177L1823 2208L1830 2240L1837 2271L1843 2303L1845 2336L1845 2370L1845 2404L1845 2438L1845 2472M1787 1813L1787 1847L1787 1881L1787 1915L1787 1949L1789 1982L1794 2015L1802 2046L1809 2077L1817 2109L1824 2140L1832 2171L1839 2202L1846 2234L1854 2265L1859 2297L1861 2330L1861 2364L1861 2398L1861 2432L1861 2466M1803 1807L1803 1841L1803 1875L1803 1909L1803 1943L1805 1977L1811 2009L1818 2040L1825 2071L1833 2103L1840 2134L1848 2165L1855 2197L1863 2228L1870 2259L1875 2291L1877 2325L1878 2359L1878 2393L1878 2427L1878 2461M1819 1802L1819 1836L1819 1870L1819 1904L1819 1938L1822 1971L1827 2003L1834 2034L1842 2066L1849 2097L1857 2128L1864 2159L1872 2191L1879 2222L1886 2253L1892 2286L1894 2319L1894 2353L1894 2387L1894 2421L1894 2455M1836 1796L1836 1830L1836 1864L1836 1898L1836 1932L1838 1965L1843 1997L1850 2028L1858 2060L1865 2091L1873 2122L1880 2154L1888 2185L1895 2216L1903 2248L1908 2280L1910 2313L1910 2347L1910 2381L1910 2415L1910 2449M1852 1790L1852 1824L1852 1858L1852 1892L1852 1926L1854 1959L1860 1991L1867 2022L1874 2054L1882 2085L1889 2116L1897 2148L1904 2179L1912 2210L1919 2242L1924 2274L1926 2307L1927 2341L1927 2375L1927 2409L1927 2443M1868 1784L1868 1818L1868 1852L1868 1886L1868 1920L1871 1953L1876 1985L1883 2017L1891 2048L1898 2079L1906 2110L1913 2142L1920 2173L1928 2204L1935 2236L1940 2268L1943 2301L1943 2335L1943 2369L1943 2403L1943 2437M1884 1778L1884 1812L1884 1846L1884 1880L1885 1914L1887 1947L1892 1979L1899 2011L1907 2042L1914 2073L1922 2105L1929 2136L1937 2167L1944 2198L1952 2230L1957 2262L1959 2295L1959 2329L1959 2363L1959 2397L1959 2431M1901 1772L1901 1806L1901 1840L1901 1874L1901 1908L1903 1941L1908 1973L1916 2005L1923 2036L1931 2067L1938 2099L1946 2130L1953 2161L1961 2193L1968 2224L1973 2256L1975 2289L1976 2323L1976 2357L1976 2391L1976 2425M1917 1766L1917 1800L1917 1834L1917 1868L1917 1902L1920 1935L1925 1968L1932 1999L1939 2030L1947 2062L1954 2093L1962 2124L1969 2155L1977 2187L1984 2218L1989 2250L1992 2283L1992 2317L1992 2351L1992 2385L1992 2419M1933 1760L1933 1794L1933 1828L1933 1862L1934 1896L1936 1930L1941 1962L1948 1993L1956 2024L1963 2056L1971 2087L1978 2118L1986 2150L1993 2181L2000 2212L2006 2244L2008 2278L2008 2311L2008 2345L2008 2379L2008 2413M1950 1755L1950 1789L1950 1823L1950 1857L1950 1890L1952 1924L1957 1956L1965 1987L1972 2018L1980 2050L1987 2081L1995 2112L2002 2144L2009 2175L2017 2206L2022 2238L2024 2272L2024 2306L2024 2340L2024 2374L2024 2408M1966 1749L1966 1783L1966 1817L1966 1851L1966 1885L1968 1918L1974 1950L1981 1981L1988 2013L1996 2044L2003 2075L2011 2106L2018 2138L2026 2169L2033 2200L2038 2233L2040 2266L2041 2300L2041 2334L2041 2368L2041 2402M1982 1743L1982 1777L1982 1811L1982 1845L1982 1879L1985 1912L1990 1944L1997 1975L2005 2007L2012 2038L2020 2069L2027 2101L2035 2132L2042 2163L2049 2195L2055 2227L2057 2260L2057 2294L2057 2328L2057 2362L2057 2396M1999 1737L1999 1771L1999 1805L1999 1839L1999 1873L2001 1906L2006 1938L2013 1970L2021 2001L2028 2032L2036 2063L2043 2095L2051 2126L2058 2157L2066 2189L2071 2221L2073 2254L2073 2288L2073 2322L2073 2356L2073 2390M2015 1731L2015 1765L2015 1799L2015 1833L2015 1867L2017 1900L2023 1932L2030 1964L2037 1995L2045 2026L2052 2058L2060 2089L2067 2120L2075 2151L2082 2183L2087 2215L2089 2248L2090 2282L2090 2316L2090 2350L2090 2384M2031 1725L2031 1759L2031 1793L2031 1827L2031 1861L2034 1894L2039 1926L2046 1958L2054 1989L2061 2020L2069 2052L2076 2083L2083 2114L2091 2146L2098 2177L2103 2209L2106 2242L2106 2276L2106 2310L2106 2344L2106 2378M2047 1719L2047 1753L2047 1787L2047 1821L2048 1855L2050 1888L2055 1920L2062 1952L2070 1983L2077 2014L2085 2046L2092 2077L2100 2108L2107 2140L2115 2171L2120 2203L2122 2236L2122 2270L2122 2304L2122 2338L2122 2372M2064 1713L2064 1747L2064 1781L2064 1815L2064 1849L2066 1883L2071 1915L2079 1946L2086 1977L2094 2009L2101 2040L2109 2071L2116 2103L2124 2134L2131 2165L2136 2197L2138 2230L2139 2264L2139 2298L2139 2332L2139 2366M2080 1708L2080 1742L2080 1776L2080 1810L2080 1843L2083 1877L2088 1909L2095 1940L2102 1971L2110 2003L2117 2034L2125 2065L2132 2097L2140 2128L2147 2159L2152 2191L2155 2225L2155 2259L2155 2293L2155 2327L2155 2361M2096 1702L2096 1736L2096 1770L2096 1804L2097 1838L2099 1871L2104 1903L2111 1934L2119 1966L2126 1997L2134 2028L2141 2059L2149 2091L2156 2122L2163 2153L2169 2186L2171 2219L2171 2253L2171 2287L2171 2321L2171 2355M2113 1696L2113 1730L2113 1764L2113 1798L2113 1832L2115 1865L2120 1897L2128 1928L2135 1960L2143 1991L2150 2022L2158 2054L2165 2085L2172 2116L2180 2148L2185 2180L2187 2213L2187 2247L2187 2281L2187 2315L2187 2349M2129 1690L2129 1724L2129 1758L2129 1792L2129 1826L2131 1859L2137 1891L2144 1922L2151 1954L2159 1985L2166 2016L2174 2048L2181 2079L2189 2110L2196 2142L2201 2174L2203 2207L2204 2241L2204 2275L2204 2309L2204 2343M2145 1684L2145 1718L2145 1752L2145 1786L2145 1820L2148 1853L2153 1885L2160 1917L2168 1948L2175 1979L2183 2010L2190 2042L2198 2073L2205 2104L2212 2136L2218 2168L2220 2201L2220 2235L2220 2269L2220 2303L2220 2337M2162 1678L2162 1712L2162 1746L2162 1780L2162 1814L2164 1847L2169 1879L2176 1911L2184 1942L2191 1973L2199 2005L2206 2036L2214 2067L2221 2099L2229 2130L2234 2162L2236 2195L2236 2229L2236 2263L2236 2297L2236 2331M2178 1672L2178 1706L2178 1740L2178 1774L2178 1808L2180 1841L2186 1873L2193 1905L2200 1936L2208 1967L2215 1999L2223 2030L2230 2061L2238 2093L2245 2124L2250 2156L2252 2189L2253 2223L2253 2257L2253 2291L2253 2325M2194 1666L2194 1700L2194 1734L2194 1768L2194 1802L2197 1835L2202 1868L2209 1899L2217 1930L2224 1962L2232 1993L2239 2024L2246 2055L2254 2087L2261 2118L2266 2150L2269 2183L2269 2217L2269 2251L2269 2285L2269 2319M2210 1660L2210 1694L2210 1728L2210 1762L2211 1796L2213 1830L2218 1862L2225 1893L2233 1924L2240 1956L2248 1987L2255 2018L2263 2050L2270 2081L2278 2112L2283 2144L2285 2178L2285 2211L2285 2245L2285 2279L2285 2313M461 2266L750 2162L800 2138L850 2107L900 2071L950 2035L1000 2003L1050 1980L1350 1872L1400 1857L1450 1846L1500 1838L1550 1831L1600 1823L1650 1813L1700 1798L2078 1661M461 2282L750 2177L800 2154L850 2123L900 2088L950 2053L1000 2022L1050 1998L1350 1890L1400 1875L1450 1864L1500 1856L1550 1848L1600 1840L1650 1829L1700 1814L2078 1677M461 2297L750 2193L800 2170L850 2139L900 2105L950 2071L1000 2040L1050 2017L1350 1909L1400 1893L1450 1882L1500 1873L1550 1866L1600 1857L1650 1846L1700 1830L2078 1694M461 2312L750 2208L800 2185L850 2155L900 2122L950 2088L1000 2058L1050 2035L1350 1927L1400 1912L1450 1900L1500 1891L1550 1883L1600 1874L1650 1862L1700 1847L2078 1710M461 2328L750 2223L800 2201L850 2171L900 2139L950 2106L1000 2077L1050 2054L1350 1946L1400 1930L1450 1918L1500 1909L1550 1900L1600 1890L1650 1878L1700 1863L2078 1726M461 2343L750 2239L800 2216L850 2188L900 2156L950 2124L1000 2095L1050 2072L1350 1964L1400 1948L1450 1936L1500 1926L1550 1917L1600 1907L1650 1895L1700 1879L2078 1743M461 2359L750 2254L800 2232L850 2204L900 2173L950 2141L1000 2113L1050 2091L1350 1983L1400 1967L1450 1954L1500 1944L1550 1934L1600 1924L1650 1911L1700 1895L2078 1759M461 2374L750 2270L800 2248L850 2220L900 2190L950 2159L1000 2131L1050 2109L1350 2001L1400 1985L1450 1972L1500 1962L1550 1951L1600 1941L1650 1928L1700 1912L2078 1775M461 2389L750 2285L800 2263L850 2236L900 2206L950 2177L1000 2150L1050 2128L1350 2020L1400 2004L1450 1990L1500 1979L1550 1969L1600 1957L1650 1944L1700 1928L2078 1791M461 2405L750 2300L800 2279L850 2252L900 2223L950 2194L1000 2168L1050 2146L1350 2038L1400 2022L1450 2009L1500 1997L1550 1986L1600 1974L1650 1961L1700 1944L2078 1808M461 2420L750 2316L800 2295L850 2269L900 2240L950 2212L1000 2186L1050 2165L1350 2057L1400 2040L1450 2027L1500 2014L1550 2003L1600 1991L1650 1977L1700 1961L2078 1824M461 2436L750 2331L800 2310L850 2285L900 2257L950 2230L1000 2204L1050 2183L1350 2075L1400 2059L1450 2045L1500 2032L1550 2020L1600 2007L1650 1993L1700 1977L2078 1840M461 2451L750 2347L800 2326L850 2301L900 2274L950 2247L1000 2223L1050 2202L1350 2094L1400 2077L1450 2063L1500 2050L1550 2037L1600 2024L1650 2010L1700 1993L2078 1857M461 2466L750 2362L800 2341L850 2317L900 2291L950 2265L1000 2241L1050 2220L1350 2112L1400 2095L1450 2081L1500 2067L1550 2054L1600 2041L1650 2026L1700 2010L2078 1873M461 2482L750 2377L800 2357L850 2333L900 2308L950 2283L1000 2259L1050 2239L1350 2131L1400 2114L1450 2099L1500 2085L1550 2072L1600 2058L1650 2043L1700 2026L2078 1889M461 2497L750 2393L800 2373L850 2350L900 2325L950 2301L1000 2278L1050 2257L1350 2149L1400 2132L1450 2117L1500 2103L1550 2089L1600 2074L1650 2059L1700 2042L2078 1906M461 2513L750 2408L800 2388L850 2366L900 2342L950 2318L1000 2296L1050 2276L1350 2168L1400 2151L1450 2135L1500 2120L1550 2106L1600 2091L1650 2076L1700 2058L2078 1922M461 2528L750 2424L800 2404L850 2382L900 2359L950 2336L1000 2314L1050 2294L1350 2186L1400 2169L1450 2153L1500 2138L1550 2123L1600 2108L1650 2092L1700 2075L2078 1938M461 2543L750 2439L800 2420L850 2398L900 2376L950 2354L1000 2332L1050 2313L1350 2205L1400 2187L1450 2171L1500 2156L1550 2140L1600 2125L1650 2108L1700 2091L2078 1954M461 2559L750 2454L800 2435L850 2414L900 2393L950 2371L1000 2351L1050 2331L1350 2223L1400 2206L1450 2189L1500 2173L1550 2157L1600 2141L1650 2125L1700 2107L2078 1971M461 2574L750 2470L800 2451L850 2431L900 2410L950 2389L1000 2369L1050 2350L1350 2242L1400 2224L1450 2207L1500 2191L1550 2175L1600 2158L1650 2141L1700 2124L2078 1987M461 2590L750 2485L800 2467L850 2447L900 2427L950 2407L1000 2387L1050 2368L1350 2260L1400 2243L1450 2225L1500 2208L1550 2192L1600 2175L1650 2158L1700 2140L2078 2003M461 2605L750 2501L800 2482L850 2463L900 2444L950 2424L1000 2405L1050 2387L1350 2279L1400 2261L1450 2243L1500 2226L1550 2209L1600 2192L1650 2174L1700 2156L2078 2020M461 2620L750 2516L800 2498L850 2479L900 2461L950 2442L1000 2424L1050 2405L1350 2297L1400 2279L1450 2261L1500 2244L1550 2226L1600 2208L1650 2191L1700 2173L2078 2036M461 2636L750 2531L800 2513L850 2496L900 2478L950 2460L1000 2442L1050 2424L1350 2316L1400 2298L1450 2280L1500 2261L1550 2243L1600 2225L1650 2207L1700 2189L2078 2052M461 2651L750 2547L800 2529L850 2512L900 2495L950 2478L1000 2460L1050 2442L1350 2334L1400 2316L1450 2298L1500 2279L1550 2260L1600 2242L1650 2223L1700 2205L2078 2069M461 2667L750 2562L800 2545L850 2528L900 2512L950 2495L1000 2478L1050 2461L1350 2353L1400 2334L1450 2316L1500 2297L1550 2278L1600 2259L1650 2240L1700 2221L2078 2085M461 2682L750 2578L800 2560L850 2544L900 2529L950 2513L1000 2497L1050 2479L1350 2371L1400 2353L1450 2334L1500 2314L1550 2295L1600 2275L1650 2256L1700 2238L2078 2101M461 2697L750 2593L800 2576L850 2560L900 2545L950 2531L1000 2515L1050 2498L1350 2390L1400 2371L1450 2352L1500 2332L1550 2312L1600 2292L1650 2273L1700 2254L2078 2117M461 2713L750 2608L800 2592L850 2577L900 2562L950 2548L1000 2533L1050 2516L1350 2408L1400 2390L1450 2370L1500 2350L1550 2329L1600 2309L1650 2289L1700 2270L2078 2134M461 2728L750 2624L800 2607L850 2593L900 2579L950 2566L1000 2552L1050 2535L1350 2427L1400 2408L1450 2388L1500 2367L1550 2346L1600 2325L1650 2305L1700 2287L2078 2150M461 2744L750 2639L800 2623L850 2609L900 2596L950 2584L1000 2570L1050 2553L1350 2445L1400 2426L1450 2406L1500 2385L1550 2363L1600 2342L1650 2322L1700 2303L2078 2166M461 2759L750 2655L800 2638L850 2625L900 2613L950 2601L1000 2588L1050 2572L1350 2464L1400 2445L1450 2424L1500 2402L1550 2381L1600 2359L1650 2338L1700 2319L2078 2183M461 2774L750 2670L800 2654L850 2641L900 2630L950 2619L1000 2606L1050 2590L1350 2482L1400 2463L1450 2442L1500 2420L1550 2398L1600 2376L1650 2355L1700 2336L2078 2199M461 2790L750 2685L800 2670L850 2658L900 2647L950 2637L1000 2625L1050 2609L1350 2501L1400 2481L1450 2460L1500 2438L1550 2415L1600 2392L1650 2371L1700 2352L2078 2215M461 2805L750 2701L800 2685L850 2674L900 2664L950 2654L1000 2643L1050 2627L1350 2519L1400 2500L1450 2478L1500 2455L1550 2432L1600 2409L1650 2388L1700 2368L2078 2232M461 2821L750 2716L800 2701L850 2690L900 2681L950 2672L1000 2661L1050 2646L1350 2538L1400 2518L1450 2496L1500 2473L1550 2449L1600 2426L1650 2404L1700 2384L2078 2248M461 2836L750 2732L800 2717L850 2706L900 2698L950 2690L1000 2679L1050 2664L1350 2556L1400 2537L1450 2514L1500 2491L1550 2466L1600 2443L1650 2420L1700 2401L2078 2264M461 2851L750 2747L800 2732L850 2722L900 2715L950 2708L1000 2698L1050 2683L1350 2575L1400 2555L1450 2532L1500 2508L1550 2484L1600 2459L1650 2437L1700 2417L2078 2280M461 2867L750 2762L800 2748L850 2739L900 2732L950 2725L1000 2716L1050 2701L1350 2593L1400 2573L1450 2550L1500 2526L1550 2501L1600 2476L1650 2453L1700 2433L2078 2297M461 2882L750 2778L800 2763L850 2755L900 2749L950 2743L1000 2734L1050 2720L1350 2612L1400 2592L1450 2569L1500 2544L1550 2518L1600 2493L1650 2470L1700 2450L2078 2313M461 2898L750 2793L800 2779L850 2771L900 2766L950 2761L1000 2753L1050 2738L1350 2630L1400 2610L1450 2587L1500 2561L1550 2535L1600 2510L1650 2486L1700 2466L2078 2329M461 2913L750 2809L800 2795L850 2787L900 2783L950 2778L1000 2771L1050 2757L1350 2649L1400 2628L1450 2605L1500 2579L1550 2552L1600 2526L1650 2503L1700 2482L2078 2346M461 2928L750 2824L800 2810L850 2803L900 2800L950 2796L1000 2789L1050 2775L1350 2667L1400 2647L1450 2623L1500 2596L1550 2569L1600 2543L1650 2519L1700 2499L2078 2362M461 2944L750 2839L800 2826L850 2820L900 2817L950 2814L1000 2807L1050 2794L1350 2686L1400 2665L1450 2641L1500 2614L1550 2587L1600 2560L1650 2535L1700 2515L2078 2378M461 2959L750 2855L800 2842L850 2836L900 2834L950 2831L1000 2826L1050 2812L1350 2704L1400 2684L1450 2659L1500 2632L1550 2604L1600 2577L1650 2552L1700 2531L2078 2395M461 2975L750 2870L800 2857L850 2852L900 2851L950 2849L1000 2844L1050 2831L1350 2723L1400 2702L1450 2677L1500 2649L1550 2621L1600 2593L1650 2568L1700 2547L2078 2411M461 2990L750 2886L800 2873L850 2868L900 2868L950 2867L1000 2862L1050 2849L1350 2741L1400 2720L1450 2695L1500 2667L1550 2638L1600 2610L1650 2585L1700 2564L2078 2427M461 3005L750 2901L800 2889L850 2884L900 2884L950 2885L1000 2880L1050 2868L1350 2760L1400 2739L1450 2713L1500 2685L1550 2655L1600 2627L1650 2601L1700 2580L2078 2443" fill="none" stroke="#2d2929" stroke-width="1.6" stroke-opacity="0.62"/>
</g>
<path d="M1224 2625L1246 2614L1266 2607L1250 2616Z" fill="#ff8a00" stroke="#ff6a00" stroke-width="1.5" stroke-linejoin="round" filter="url(#b1)"/>
<line x1="1427.5" y1="1664" x2="1503" y2="2830" stroke="#ff0000" stroke-width="1.7"/>
<line x1="465.6" y1="2630" x2="2073" y2="2050" stroke="#1c1cff" stroke-width="1.4"/>
<line x1="1426" y1="2252.7" x2="1467" y2="2270" stroke="#10c010" stroke-width="1.6"/>
<line x1="655" y1="2238" x2="1220" y2="2107.5" stroke="#00cc33" stroke-width="28" stroke-linecap="round"/>
<g font-size="20" fill="#111" text-anchor="middle" opacity="0.85">
<text transform="translate(1387 1725.7) rotate(180)" y="7" textLength="64" lengthAdjust="spacingAndGlyphs">5.0 mm</text>
<text transform="translate(1413.7 1837.6) rotate(180)" y="7" textLength="30" lengthAdjust="spacingAndGlyphs">4.0</text>
<text transform="translate(1435 2177) rotate(180)" y="7" textLength="30" lengthAdjust="spacingAndGlyphs">1.0</text>
<text transform="translate(1442 2289) rotate(180)" y="7" textLength="30" lengthAdjust="spacingAndGlyphs">0.0</text>
<text transform="translate(1456 2512) rotate(180)" y="7" textLength="38" lengthAdjust="spacingAndGlyphs">-2.0</text>
<text transform="translate(1622 2222) rotate(180)" y="7" textLength="49" lengthAdjust="spacingAndGlyphs">-1.79</text>
<text transform="translate(1938 2108) rotate(180)" y="7" textLength="49" lengthAdjust="spacingAndGlyphs">-3.79</text>
<text transform="translate(1311 2332) rotate(180)" y="7" textLength="40" lengthAdjust="spacingAndGlyphs">1.21</text>
<text transform="translate(994 2446) rotate(180)" y="7" textLength="40" lengthAdjust="spacingAndGlyphs">4.31</text>
<text transform="translate(678 2560) rotate(180)" y="7" textLength="40" lengthAdjust="spacingAndGlyphs">7.41</text>
</g>
<g fill="#fff" opacity="0.85">
<rect x="1435.5" y="1820" width="5" height="2"/>
<rect x="1456.5" y="2158.5" width="5" height="2"/>
<rect x="1479.0" y="2496" width="5" height="2"/>
<rect x="1652" y="2199.0" width="2" height="5"/>
<rect x="1969" y="2084.5" width="2" height="5"/>
<rect x="1340" y="2311.5" width="2" height="5"/>
<rect x="1023" y="2426.0" width="2" height="5"/>
<rect x="707" y="2540.0" width="2" height="5"/>
</g>
<path d="M256 1300.3L499.8 1730.2L485.3 1737L695.5 2190L666 2203L449.4 1755L433 1762.8Z" fill="#595959"/>
</g>
</svg></body></html>
